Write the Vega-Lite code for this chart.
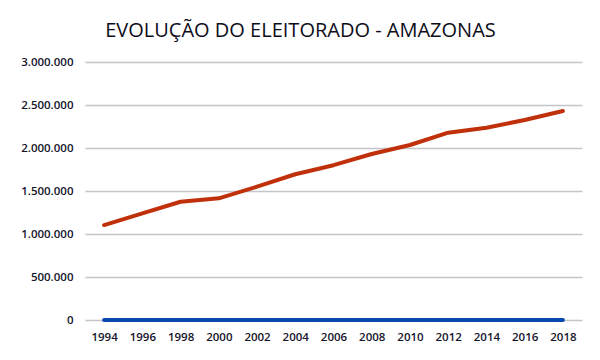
{
  "$schema": "https://vega.github.io/schema/vega-lite/v6.json",
  "autosize": "none",
  "width": 497,
  "height": 258,
  "padding": {"left": 85, "top": 62, "right": 18, "bottom": 40},
  "background": "white",
  "config": {
    "locale": {"number": {"decimal": ",", "thousands": ".", "grouping": [3], "currency": ["R$", ""]}},
    "view": {"stroke": null}
  },
  "title": {
    "text": "EVOLUÇÃO DO ELEITORADO - AMAZONAS",
    "font": "Open Sans",
    "fontSize": 20,
    "fontWeight": 500,
    "color": "#0d0d1a",
    "anchor": "middle",
    "frame": "group",
    "dx": -33,
    "offset": 15
  },
  "data": {
    "values": [
      {"ano": "1994", "serie": "Eleitorado", "valor": 1104000},
      {"ano": "1996", "serie": "Eleitorado", "valor": 1240000},
      {"ano": "1998", "serie": "Eleitorado", "valor": 1375000},
      {"ano": "2000", "serie": "Eleitorado", "valor": 1415000},
      {"ano": "2002", "serie": "Eleitorado", "valor": 1550000},
      {"ano": "2004", "serie": "Eleitorado", "valor": 1695000},
      {"ano": "2006", "serie": "Eleitorado", "valor": 1800000},
      {"ano": "2008", "serie": "Eleitorado", "valor": 1930000},
      {"ano": "2010", "serie": "Eleitorado", "valor": 2035000},
      {"ano": "2012", "serie": "Eleitorado", "valor": 2178000},
      {"ano": "2014", "serie": "Eleitorado", "valor": 2236000},
      {"ano": "2016", "serie": "Eleitorado", "valor": 2325000},
      {"ano": "2018", "serie": "Eleitorado", "valor": 2430000},
      {"ano": "1994", "serie": "Base", "valor": 0},
      {"ano": "1996", "serie": "Base", "valor": 0},
      {"ano": "1998", "serie": "Base", "valor": 0},
      {"ano": "2000", "serie": "Base", "valor": 0},
      {"ano": "2002", "serie": "Base", "valor": 0},
      {"ano": "2004", "serie": "Base", "valor": 0},
      {"ano": "2006", "serie": "Base", "valor": 0},
      {"ano": "2008", "serie": "Base", "valor": 0},
      {"ano": "2010", "serie": "Base", "valor": 0},
      {"ano": "2012", "serie": "Base", "valor": 0},
      {"ano": "2014", "serie": "Base", "valor": 0},
      {"ano": "2016", "serie": "Base", "valor": 0},
      {"ano": "2018", "serie": "Base", "valor": 0}
    ]
  },
  "mark": {"type": "line", "strokeWidth": 4, "strokeCap": "round", "strokeJoin": "round"},
  "encoding": {
    "x": {
      "field": "ano",
      "type": "ordinal",
      "scale": {"type": "point", "padding": 0.5},
      "axis": {
        "title": null,
        "labelAngle": 0,
        "ticks": false,
        "domain": false,
        "labelFont": "Open Sans",
        "labelFontSize": 11.5,
        "labelFontWeight": 600,
        "labelColor": "#14142b",
        "labelPadding": 11
      }
    },
    "y": {
      "field": "valor",
      "type": "quantitative",
      "scale": {"domain": [0, 3000000]},
      "axis": {
        "title": null,
        "values": [0, 500000, 1000000, 1500000, 2000000, 2500000, 3000000],
        "format": ",d",
        "ticks": false,
        "domain": false,
        "gridColor": "#c4c4ca",
        "gridWidth": 1.5,
        "labelFont": "Open Sans",
        "labelFontSize": 11.5,
        "labelFontWeight": 600,
        "labelColor": "#14142b",
        "labelPadding": 12
      }
    },
    "color": {
      "field": "serie",
      "type": "nominal",
      "scale": {"domain": ["Eleitorado", "Base"], "range": ["#c0300a", "#0a47b0"]},
      "legend": null
    },
    "order": {"field": "ano"}
  }
}
